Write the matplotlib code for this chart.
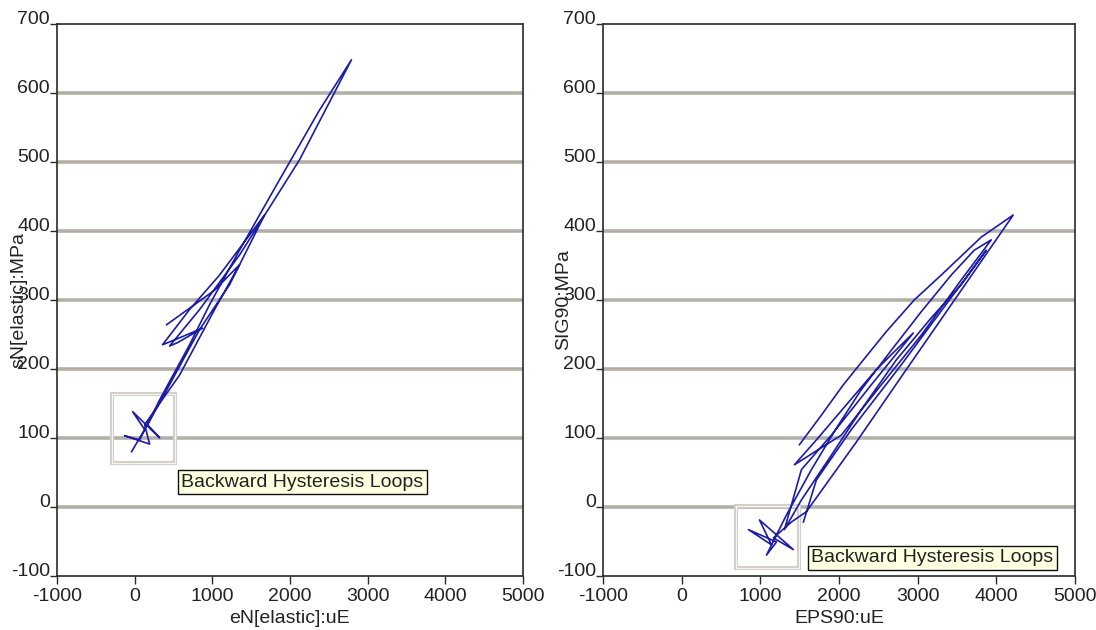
import matplotlib
matplotlib.use("Agg")
import matplotlib.pyplot as plt
from matplotlib.patches import Rectangle

plt.rcParams['font.family'] = ['Liberation Sans', 'DejaVu Sans']

# ---- data: strain (uE) / stress (MPa) recorded path, elastic gauge ----
en_elastic = [-39, 129, -26, 322, 167, 450, 837, 1223, 1673, 1094, 708, 360,
              515, 875, 553, 450, 837, 1351, 2124, 2793, 2381, 1866, 1351, 965,
              708, 322, 64, -129, 193, 129, 579, 1030, 1351, 1030, 412]
sn_elastic = [80, 112, 138, 100, 119, 177, 257, 322, 423, 336, 286, 235,
              242, 259, 238, 233, 286, 365, 503, 648, 575, 474, 372, 293,
              235, 155, 97, 103, 91, 119, 191, 286, 351, 314, 264]

# ---- data: 90-degree gauge ----
eps90 = [1497, 1777, 2056, 2310, 2601, 2957, 3299, 3807, 4213,
         3553, 2855, 2221, 1586,
         1396, 1167, 1421, 990, 1142, 850, 1206, 1079,
         1332, 1650, 1967, 2284, 2665, 3046, 3426, 3718, 3934,
         3553, 3046, 2538, 2030, 1434,
         1713, 2094, 2475, 2792, 2944,
         2411, 1904, 1523, 1307,
         1523, 1904, 2284, 2728, 3172, 3553, 3871,
         2792, 2157, 1713, 1548]
sig90 = [90, 133, 177, 213, 254, 300, 336, 391, 423,
         314, 199, 94, -7,
         -22, -45, -62, -19, -55, -33, -51, -70,
         -12, 54, 114, 170, 227, 283, 336, 372, 387,
         329, 249, 177, 104, 61,
         97, 148, 199, 235, 252,
         177, 104, 54, -33,
         10, 75, 141, 213, 274, 322, 372,
         206, 112, 39, -22]

x_ticks = [-1000, 0, 1000, 2000, 3000, 4000, 5000]
y_ticks = [-100, 0, 100, 200, 300, 400, 500, 600, 700]

note_text = "Backward Hysteresis Loops"

LINE_COLOR = '#1c1ca6'
GRID_COLOR = '#b4b0a8'
SPINE_COLOR = '#2a2a2a'
TEXT_COLOR = '#222222'
FS = 14

fig = plt.figure(figsize=(10.96, 6.30), dpi=100)
ax1 = fig.add_axes([0.052, 0.086, 0.425, 0.876])
ax2 = fig.add_axes([0.550, 0.086, 0.431, 0.876])


def style_axes(ax, xlabel, ylabel):
    ax.set_xlim(-1000, 5000)
    ax.set_ylim(-100, 700)
    ax.set_xticks(x_ticks)
    ax.set_yticks(y_ticks)
    ax.set_xticklabels([str(v) for v in x_ticks])
    ax.set_yticklabels([str(v) for v in y_ticks])
    for s in ax.spines.values():
        s.set_color(SPINE_COLOR)
        s.set_linewidth(1.2)
    ax.tick_params(axis='x', direction='out', length=6, width=1,
                   color=SPINE_COLOR, labelsize=FS, pad=3, labelcolor=TEXT_COLOR)
    ax.tick_params(axis='y', direction='out', length=5, width=1,
                   color=SPINE_COLOR, labelsize=FS, pad=0, labelcolor=TEXT_COLOR)
    # y labels sit on the tick, text resting on its baseline
    for lab in ax.get_yticklabels():
        lab.set_verticalalignment('baseline')
    for y in y_ticks[1:-1]:
        ax.axhline(y, color=GRID_COLOR, lw=2.6, zorder=0.5)
    ax.set_xlabel(xlabel, fontsize=FS, color=TEXT_COLOR)
    ax.set_ylabel(ylabel, fontsize=FS, color=TEXT_COLOR)
    ax.xaxis.set_label_coords(0.5, -0.062)
    ax.yaxis.set_label_coords(-0.064, 0.5)


def mark_region(ax, x0, x1, y0, y1):
    ax.add_patch(Rectangle((x0, y0), x1 - x0, y1 - y0, fill=False,
                           edgecolor='#d4d0c8', lw=3.0, zorder=1))
    ax.add_patch(Rectangle((x0, y0), x1 - x0, y1 - y0, fill=False,
                           edgecolor='#f4f4f0', lw=0.8, zorder=1.1))


def note(ax, x, y):
    ax.text(x, y, note_text, fontsize=FS, color=TEXT_COLOR, ha='left',
            va='center', zorder=5,
            bbox=dict(boxstyle='square,pad=0.18', facecolor='#ffffe1',
                      edgecolor='#111111', lw=1.0))


style_axes(ax1, 'eN[elastic]:uE', 'sN[elastic]:MPa')
style_axes(ax2, 'EPS90:uE', 'SIG90:MPa')

ax1.plot(en_elastic, sn_elastic, color=LINE_COLOR, lw=1.2, zorder=3)
ax2.plot(eps90, sig90, color=LINE_COLOR, lw=1.2, zorder=3)

mark_region(ax1, -290, 520, 63, 163)
mark_region(ax2, 690, 1490, -89, 1)

note(ax1, 600, 36)
note(ax2, 1650, -74)

fig.savefig('out.png', dpi=100)
